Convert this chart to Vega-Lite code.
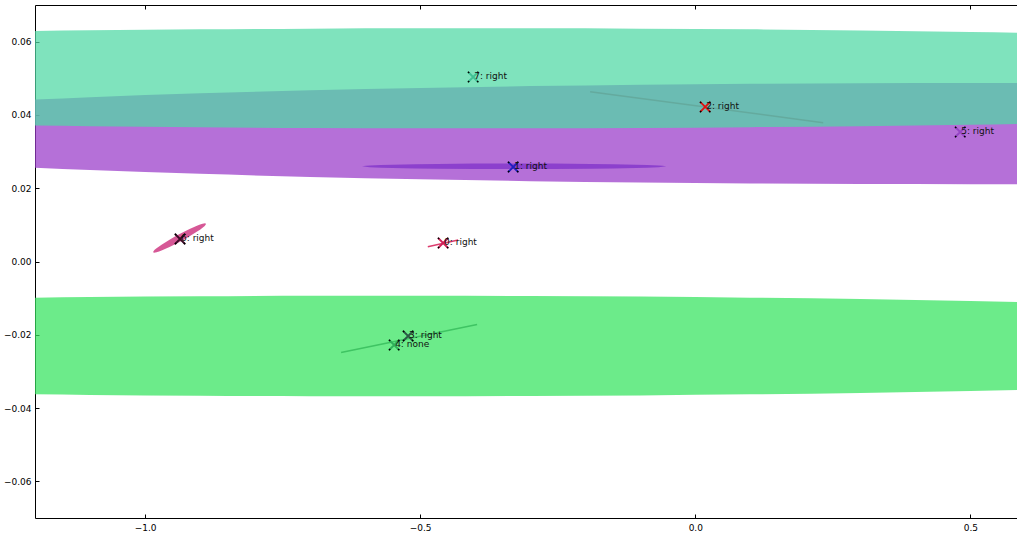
{
  "$schema": "https://vega.github.io/schema/vega-lite/v6.json",
  "width": 983,
  "height": 513,
  "autosize": {"type": "none"},
  "padding": {"left": 35, "top": 5, "right": 0, "bottom": 16},
  "background": "white",
  "config": {
    "view": {"stroke": "#000", "strokeWidth": 1},
    "axis": {"grid": false, "domain": false, "ticks": true, "tickColor": "#000", "tickSize": -4, "tickWidth": 1, "labelFont": "DejaVu Sans", "labelFontSize": 9, "labelColor": "#000", "title": null}
  },
  "datasets": {
    "ell": [
      {"e": "g", "x": -1.3, "lo": -0.03606, "hi": -0.01006},
      {"e": "g", "x": -1.1, "lo": -0.0364, "hi": -0.00972},
      {"e": "g", "x": -0.9, "lo": -0.03663, "hi": -0.00949},
      {"e": "g", "x": -0.7, "lo": -0.03676, "hi": -0.00936},
      {"e": "g", "x": -0.5, "lo": -0.03679, "hi": -0.00933},
      {"e": "g", "x": -0.3, "lo": -0.03671, "hi": -0.00941},
      {"e": "g", "x": -0.1, "lo": -0.03654, "hi": -0.00958},
      {"e": "g", "x": 0.1, "lo": -0.03625, "hi": -0.00987},
      {"e": "g", "x": 0.3, "lo": -0.03586, "hi": -0.01026},
      {"e": "g", "x": 0.5, "lo": -0.03533, "hi": -0.01079},
      {"e": "g", "x": 0.7, "lo": -0.03467, "hi": -0.01145},
      {"e": "p", "x": -1.3, "lo": 0.02628, "hi": 0.04352},
      {"e": "p", "x": -1.1, "lo": 0.02495, "hi": 0.04485},
      {"e": "p", "x": -0.9, "lo": 0.02392, "hi": 0.04589},
      {"e": "p", "x": -0.7, "lo": 0.02309, "hi": 0.04671},
      {"e": "p", "x": -0.5, "lo": 0.02244, "hi": 0.04736},
      {"e": "p", "x": -0.3, "lo": 0.02193, "hi": 0.04787},
      {"e": "p", "x": -0.1, "lo": 0.02155, "hi": 0.04825},
      {"e": "p", "x": 0.1, "lo": 0.02129, "hi": 0.04851},
      {"e": "p", "x": 0.3, "lo": 0.02114, "hi": 0.04866},
      {"e": "p", "x": 0.5, "lo": 0.0211, "hi": 0.0487},
      {"e": "p", "x": 0.7, "lo": 0.02116, "hi": 0.04864},
      {"e": "a", "x": -1.3, "lo": 0.03732, "hi": 0.06268},
      {"e": "a", "x": -1.1, "lo": 0.03692, "hi": 0.06308},
      {"e": "a", "x": -0.9, "lo": 0.03664, "hi": 0.06336},
      {"e": "a", "x": -0.7, "lo": 0.03645, "hi": 0.06355},
      {"e": "a", "x": -0.5, "lo": 0.03636, "hi": 0.06364},
      {"e": "a", "x": -0.3, "lo": 0.03636, "hi": 0.06364},
      {"e": "a", "x": -0.1, "lo": 0.03646, "hi": 0.06354},
      {"e": "a", "x": 0.1, "lo": 0.03665, "hi": 0.06335},
      {"e": "a", "x": 0.3, "lo": 0.03694, "hi": 0.06306},
      {"e": "a", "x": 0.5, "lo": 0.03734, "hi": 0.06266},
      {"e": "a", "x": 0.7, "lo": 0.03786, "hi": 0.06214},
      {"e": "dp", "x": -0.6056, "lo": 0.02598, "hi": 0.02598},
      {"e": "dp", "x": -0.5918, "lo": 0.02575, "hi": 0.02621},
      {"e": "dp", "x": -0.5503, "lo": 0.02554, "hi": 0.02642},
      {"e": "dp", "x": -0.4674, "lo": 0.02534, "hi": 0.02662},
      {"e": "dp", "x": -0.3292, "lo": 0.02524, "hi": 0.02672},
      {"e": "dp", "x": -0.191, "lo": 0.02534, "hi": 0.02662},
      {"e": "dp", "x": -0.1081, "lo": 0.02554, "hi": 0.02642},
      {"e": "dp", "x": -0.0666, "lo": 0.02575, "hi": 0.02621},
      {"e": "dp", "x": -0.0528, "lo": 0.02598, "hi": 0.02598},
      {"e": "pk", "x": -0.9854, "lo": 0.002566, "hi": 0.002566},
      {"e": "pk", "x": -0.9837, "lo": 0.002416, "hi": 0.002991},
      {"e": "pk", "x": -0.9791, "lo": 0.00253, "hi": 0.003603},
      {"e": "pk", "x": -0.97, "lo": 0.003, "hi": 0.004588},
      {"e": "pk", "x": -0.9555, "lo": 0.003955, "hi": 0.005964},
      {"e": "pk", "x": -0.9373, "lo": 0.00533, "hi": 0.007498},
      {"e": "pk", "x": -0.9191, "lo": 0.006864, "hi": 0.008873},
      {"e": "pk", "x": -0.9046, "lo": 0.00824, "hi": 0.009828},
      {"e": "pk", "x": -0.8955, "lo": 0.009225, "hi": 0.010298},
      {"e": "pk", "x": -0.8909, "lo": 0.009837, "hi": 0.010412},
      {"e": "pk", "x": -0.8892, "lo": 0.010262, "hi": 0.010262}
    ],
    "seg": [
      {"sid": "s2", "x": -0.1911, "y": 0.04634, "x2": 0.2325, "y2": 0.03788},
      {"sid": "s0", "x": -0.4861, "y": 0.00404, "x2": -0.431, "y2": 0.00587},
      {"sid": "s3", "x": -0.6437, "y": -0.02484, "x2": -0.3965, "y2": -0.01719}
    ],
    "pts": [
      {"id": "7", "x": -0.4037, "y": 0.05035, "lab": "7: right"},
      {"id": "2", "x": 0.018, "y": 0.04217, "lab": "2: right"},
      {"id": "1", "x": -0.331, "y": 0.02579, "lab": "1: right"},
      {"id": "5", "x": 0.4815, "y": 0.03534, "lab": "5: right"},
      {"id": "6", "x": -0.9364, "y": 0.00614, "lab": "6: right"},
      {"id": "0", "x": -0.4583, "y": 0.00505, "lab": "0: right"},
      {"id": "3", "x": -0.5219, "y": -0.02033, "lab": "3: right"},
      {"id": "4", "x": -0.5473, "y": -0.02279, "lab": "4: none"}
    ]
  },
  "resolve": {"axis": {"x": "independent"}, "scale": {"color": "independent", "stroke": "independent"}},
  "layer": [
    {
      "data": {"name": "ell"},
      "transform": [{"filter": "datum.e === 'g'"}],
      "mark": {"type": "area", "clip": true, "color": "#36e45f", "opacity": 0.73, "interpolate": "monotone"},
      "encoding": {
        "x": {"field": "x", "type": "quantitative", "scale": {"domain": [-1.2, 0.5865], "nice": false, "zero": false},
              "axis": {"orient": "bottom", "values": [-1, -0.5, 0, 0.5], "format": ".1f", "labelExpr": "replace(datum.label, '-', '\u2212')", "labelPadding": 9, "labelFlush": false}},
        "y": {"field": "lo", "type": "quantitative", "stack": null, "scale": {"domain": [-0.07, 0.07], "nice": false, "zero": false},
              "axis": {"values": [-0.06, -0.04, -0.02, 0, 0.02, 0.04, 0.06], "format": ".2f", "labelExpr": "replace(datum.label, '-', '\u2212')", "labelPadding": 8}},
        "y2": {"field": "hi"}
      }
    },
    {
      "data": {"name": "ell"},
      "transform": [{"filter": "datum.e === 'p'"}],
      "mark": {"type": "area", "clip": true, "color": "#9a3bca", "opacity": 0.73, "interpolate": "monotone"},
      "encoding": {
        "x": {"field": "x", "type": "quantitative", "scale": {"domain": [-1.2, 0.5865], "nice": false, "zero": false}, "axis": null},
        "y": {"field": "lo", "type": "quantitative", "stack": null, "scale": {"domain": [-0.07, 0.07], "nice": false, "zero": false}},
        "y2": {"field": "hi"}
      }
    },
    {
      "data": {"name": "ell"},
      "transform": [{"filter": "datum.e === 'a'"}],
      "mark": {"type": "area", "clip": true, "color": "#50d9a5", "opacity": 0.73, "interpolate": "monotone"},
      "encoding": {
        "x": {"field": "x", "type": "quantitative", "scale": {"domain": [-1.2, 0.5865], "nice": false, "zero": false}, "axis": null},
        "y": {"field": "lo", "type": "quantitative", "stack": null, "scale": {"domain": [-0.07, 0.07], "nice": false, "zero": false}},
        "y2": {"field": "hi"}
      }
    },
    {
      "data": {"name": "ell"},
      "transform": [{"filter": "datum.e === 'dp'"}],
      "mark": {"type": "area", "clip": true, "color": "#7d2ec8", "opacity": 0.73, "interpolate": "monotone"},
      "encoding": {
        "x": {"field": "x", "type": "quantitative", "scale": {"domain": [-1.2, 0.5865], "nice": false, "zero": false}, "axis": null},
        "y": {"field": "lo", "type": "quantitative", "stack": null, "scale": {"domain": [-0.07, 0.07], "nice": false, "zero": false}},
        "y2": {"field": "hi"}
      }
    },
    {
      "data": {"name": "ell"},
      "transform": [{"filter": "datum.e === 'pk'"}],
      "mark": {"type": "area", "clip": true, "color": "#c71a6f", "opacity": 0.73, "interpolate": "monotone"},
      "encoding": {
        "x": {"field": "x", "type": "quantitative", "scale": {"domain": [-1.2, 0.5865], "nice": false, "zero": false}, "axis": null},
        "y": {"field": "lo", "type": "quantitative", "stack": null, "scale": {"domain": [-0.07, 0.07], "nice": false, "zero": false}},
        "y2": {"field": "hi"}
      }
    },
    {
      "data": {"name": "seg"},
      "mark": {"type": "rule", "clip": true, "strokeWidth": 1.5},
      "encoding": {
        "x": {"field": "x", "type": "quantitative", "scale": {"domain": [-1.2, 0.5865], "nice": false, "zero": false}, "axis": null},
        "y": {"field": "y", "type": "quantitative", "scale": {"domain": [-0.07, 0.07], "nice": false, "zero": false}},
        "x2": {"field": "x2"},
        "y2": {"field": "y2"},
        "stroke": {"field": "sid", "type": "nominal", "legend": null, "scale": {"domain": ["s2", "s0", "s3"], "range": ["#64aa9e", "#dc3c6e", "#3fc463"]}}
      }
    },
    {
      "data": {"name": "pts"},
      "mark": {"type": "point", "clip": true, "shape": "M-1,-1L1,1M-1,1L1,-1", "size": 100, "strokeWidth": 1.8, "filled": false, "opacity": 1},
      "encoding": {
        "x": {"field": "x", "type": "quantitative", "scale": {"domain": [-1.2, 0.5865], "nice": false, "zero": false}, "axis": null},
        "y": {"field": "y", "type": "quantitative", "scale": {"domain": [-0.07, 0.07], "nice": false, "zero": false}},
        "color": {"field": "id", "type": "nominal", "legend": null, "scale": {"domain": ["0", "1", "2", "3", "4", "5", "6", "7"], "range": ["#d0205a", "#1f1fbf", "#e01010", "#2a5a45", "#2fae5a", "#9545c5", "#3a0a25", "#40c295"]}}
      }
    },
    {
      "data": {"name": "pts"},
      "mark": {"type": "point", "clip": true, "shape": "M-1,-1L-0.75,-0.75M1,1L0.75,0.75M-1,1L-0.75,0.75M1,-1L0.75,-0.75", "size": 110, "strokeWidth": 1.5, "filled": false, "opacity": 1, "color": "#000"},
      "encoding": {
        "x": {"field": "x", "type": "quantitative", "scale": {"domain": [-1.2, 0.5865], "nice": false, "zero": false}, "axis": null},
        "y": {"field": "y", "type": "quantitative", "scale": {"domain": [-0.07, 0.07], "nice": false, "zero": false}}
      }
    },
    {
      "data": {"name": "pts"},
      "mark": {"type": "text", "align": "left", "baseline": "alphabetic", "dx": 1, "dy": 2, "font": "DejaVu Sans", "fontSize": 9, "color": "#111"},
      "encoding": {
        "x": {"field": "x", "type": "quantitative", "scale": {"domain": [-1.2, 0.5865], "nice": false, "zero": false},
              "axis": {"orient": "top", "values": [-1, -0.5, 0, 0.5], "labels": false}},
        "y": {"field": "y", "type": "quantitative", "scale": {"domain": [-0.07, 0.07], "nice": false, "zero": false}},
        "text": {"field": "lab"}
      }
    }
  ]
}
